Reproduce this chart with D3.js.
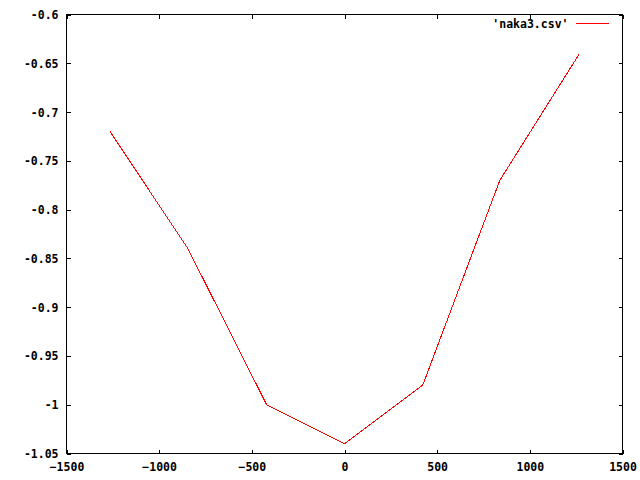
<!DOCTYPE html>
<html>
<head>
<meta charset="utf-8">
<script src="https://cdn.jsdelivr.net/npm/d3@7"></script>
<style>
  html, body { margin: 0; padding: 0; background: #fff; }
  svg text { font-family: "DejaVu Sans Mono", monospace; font-weight: bold; font-size: 11.5px; fill: #000; }
</style>
</head>
<body>
<script>
// Data
const xValues = [-1265, -845, -420, 0, 422, 838, 1268];
const yValues = [-0.72, -0.84, -1.0, -1.04, -0.98, -0.77, -0.64];
const xTicks = [-1500, -1000, -500, 0, 500, 1000, 1500];
const yTicks = [-0.6, -0.65, -0.7, -0.75, -0.8, -0.85, -0.9, -0.95, -1, -1.05];
const seriesName = "'naka3.csv'";

const W = 640, H = 480;
const mLeft = 66.5, mRight = 622.5, mTop = 14.5, mBottom = 453.5;
const tickLen = 4;
const FONT = "11.5px";

const svg = d3.select("body").append("svg").attr("width", W).attr("height", H);

const x = d3.scaleLinear().domain([-1500, 1500]).range([mLeft, mRight]);
const y = d3.scaleLinear().domain([-1.05, -0.6]).range([mBottom, mTop]);

const fmtY = v => String(+v.toFixed(2));

const yAxisL = d3.axisLeft(y).tickValues(yTicks).tickSizeInner(-tickLen).tickSizeOuter(0).tickPadding(12).tickFormat(fmtY);
const gL = svg.append("g").attr("transform", `translate(${mLeft},0)`).call(yAxisL);
const yAxisR = d3.axisRight(y).tickValues(yTicks).tickSizeInner(-tickLen).tickSizeOuter(0).tickFormat("");
const gR = svg.append("g").attr("transform", `translate(${mRight},0)`).call(yAxisR);
const xAxisB = d3.axisBottom(x).tickValues(xTicks).tickSizeInner(-tickLen).tickSizeOuter(0).tickPadding(14).tickFormat(d3.format("d"));
const gB = svg.append("g").attr("transform", `translate(0,${mBottom})`).call(xAxisB);
const xAxisT = d3.axisTop(x).tickValues(xTicks).tickSizeInner(-tickLen).tickSizeOuter(0).tickFormat("");
const gT = svg.append("g").attr("transform", `translate(0,${mTop})`).call(xAxisT);

[gL, gR, gB, gT].forEach(g => {
  g.selectAll(".domain").remove();
  g.selectAll("line").attr("stroke", "#000").attr("shape-rendering", "crispEdges");
  g.selectAll("text").attr("font-family", null).attr("font-size", null).style("font-family", '"DejaVu Sans Mono", monospace').style("font-weight", "bold").style("font-size", FONT).attr("fill", "#000");
});
gL.selectAll("text").attr("x", -8).attr("dy", "0.35em");
gB.selectAll("text").attr("y", 9).attr("dy", "0.71em");

svg.append("rect")
  .attr("x", mLeft).attr("y", mTop)
  .attr("width", mRight - mLeft).attr("height", mBottom - mTop)
  .attr("fill", "none").attr("stroke", "#000").attr("stroke-width", 1)
  .attr("shape-rendering", "crispEdges");

const pts = xValues.map((v, i) => [v, yValues[i]]);
svg.append("path")
  .datum(pts)
  .attr("d", d3.line().x(d => x(d[0])).y(d => y(d[1])))
  .attr("fill", "none").attr("stroke", "#ff0000").attr("stroke-width", 1)
  .attr("shape-rendering", "crispEdges");

const legY = 23.5;
svg.append("text").attr("x", 568.5).attr("y", legY).attr("dy", "0.35em").attr("text-anchor", "end").text(seriesName);
svg.append("line").attr("x1", 576).attr("x2", 609).attr("y1", legY).attr("y2", legY)
  .attr("stroke", "#ff0000").attr("stroke-width", 1).attr("shape-rendering", "crispEdges");
</script>
</body>
</html>
